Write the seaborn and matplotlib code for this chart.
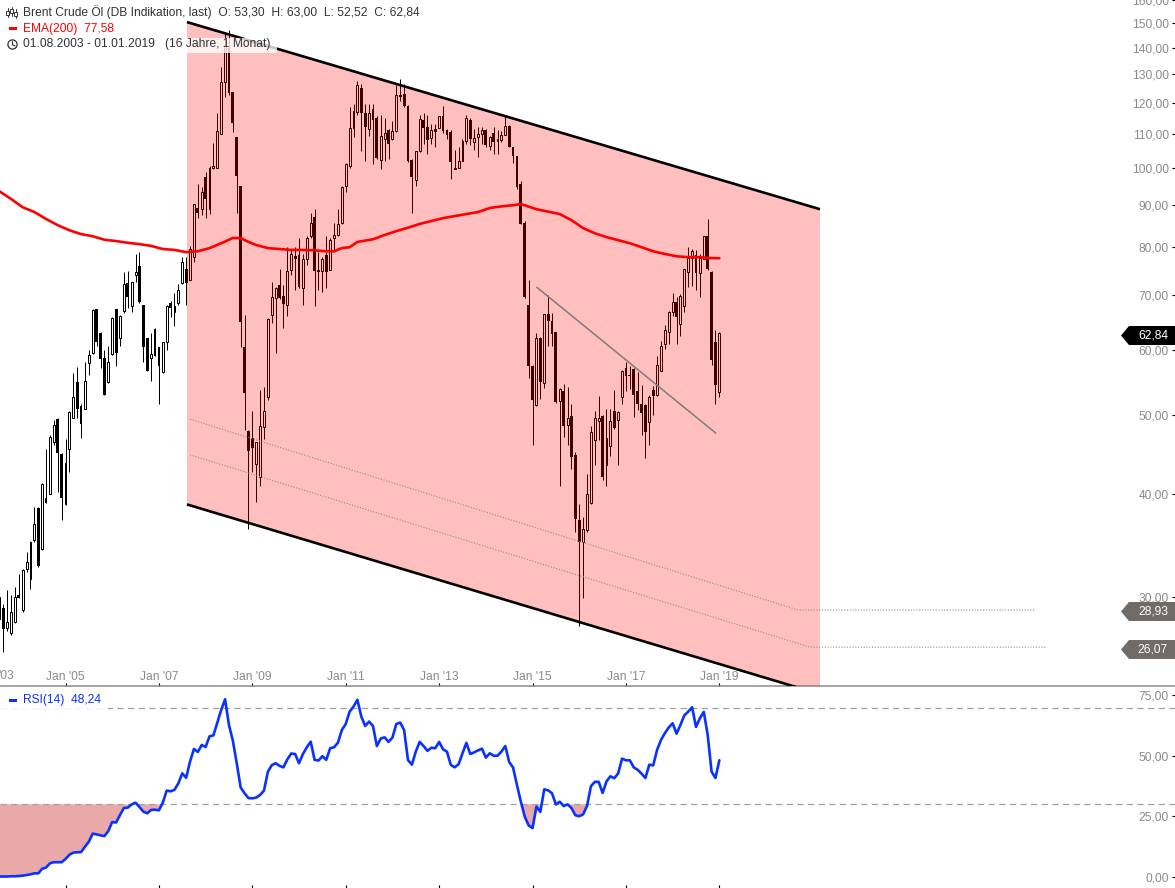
import numpy as np
import pandas as pd
import seaborn as sns
import matplotlib
matplotlib.use("Agg")
import matplotlib.pyplot as plt
from matplotlib.patches import Polygon, Rectangle, Circle
from matplotlib.ticker import NullLocator

opens = [28.2,29.1,27.5,27.1,28.0,
 30.2,28.9,32.5,31.6,35.2,38.5,34.3,39.6,40.1,46.3,49.4,44.8,
 38.9,45.5,49.6,54.9,51.2,50.9,57.9,59.4,67.2,62.9,58.6,54.8,
 59.3,67.2,62.0,66.9,72.3,67.9,74.1,75.9,68.0,62.0,58.6,63.6,
 60.4,56.4,61.3,68.5,66.7,68.5,72.3,75.2,73.0,77.9,89.3,89.0,
 97.4,89.0,99.9,100.0,110.0,127.0,140.0,123.5,108.9,95.0,60.4,47.8,
 46.8,43.6,42.0,48.3,52.6,66.1,69.4,71.9,69.8,68.1,75.0,78.0,
 78.2,71.4,77.5,82.5,87.0,75.1,74.8,78.3,75.1,82.0,82.9,85.7,
 95.0,100.5,111.6,117.0,125.0,116.4,111.4,118.0,114.9,102.2,108.3,111.0,
 108.5,110.8,122.5,122.8,119.0,102.3,96.5,104.7,114.3,112.0,108.7,111.3,
 111.8,115.7,111.0,110.5,99.7,100.0,102.0,107.8,114.3,107.4,109.0,110.0,
 111.0,106.3,110.2,107.7,108.2,109.7,112.4,105.9,103.3,95.4,85.7,68.0,
 57.4,51.4,62.0,54.7,66.4,65.0,63.0,52.0,53.5,48.6,49.8,44.7,
 37.2,35.0,36.2,39.0,46.6,49.2,49.9,43.4,45.8,50.6,49.3,52.6,
 57.0,55.9,56.8,53.5,51.6,51.4,49.0,53.6,52.8,56.6,61.0,63.0,
 66.8,68.6,64.5,67.9,74.7,77.6,78.3,74.5,77.5,82.5,74.7,61.3,
 53.30]
highs = [30.4,29.4,30.6,30.2,30.9,
 32.0,32.5,34.0,35.1,38.6,38.6,41.3,45.4,47.3,49.3,49.5,44.9,
 46.7,50.5,56.2,57.2,51.6,58.0,60.0,67.2,67.3,63.0,59.9,60.6,
 65.7,67.3,66.1,74.7,74.9,72.6,78.6,78.9,68.1,62.1,62.9,63.8,
 60.5,61.4,68.0,68.9,70.3,72.1,77.9,77.9,80.2,90.4,95.6,94.8,
 98.9,100.6,107.2,116.6,132.6,146.0,147.0,123.6,109.0,95.1,66.1,47.9,
 50.5,46.4,53.6,54.1,65.6,72.6,71.5,75.2,71.9,80.0,79.5,80.0,
 82.1,78.4,82.6,88.0,89.1,79.0,77.9,82.6,82.0,85.6,89.0,95.0,
 101.3,118.6,119.5,127.6,126.5,119.5,119.5,119.5,115.5,116.0,115.0,111.3,
 114.0,125.9,128.2,126.3,119.1,102.4,104.9,116.0,116.5,116.0,113.0,112.9,
 115.7,119.0,111.5,111.0,105.0,106.0,108.5,116.0,115.0,111.5,112.0,112.0,
 111.5,109.3,112.0,111.0,110.8,115.5,112.6,106.0,103.4,96.3,86.0,73.0,
 57.5,62.9,62.2,66.4,70.0,66.5,63.1,53.9,54.5,54.0,51.6,45.0,
 38.9,37.6,42.4,48.4,50.6,52.7,50.0,50.8,50.8,53.6,50.5,56.7,
 58.0,57.4,57.1,56.4,54.4,51.5,52.8,54.2,58.9,61.5,64.4,66.9,
 70.3,69.6,70.2,75.3,80.0,79.5,79.3,78.4,82.6,86.5,74.8,63.5,
 63.00]
lows = [27.6,25.7,27.3,27.0,27.9,
 29.9,28.8,32.2,30.7,35.0,32.6,34.2,39.0,40.0,46.0,40.3,37.2,
 38.8,42.6,49.5,49.6,46.9,50.8,55.9,59.3,60.7,57.1,52.8,54.7,
 59.2,57.3,60.6,66.5,67.4,66.8,72.5,68.5,58.0,56.5,55.0,58.9,
 51.6,56.3,60.0,65.8,64.2,68.1,72.2,68.1,72.9,76.8,86.9,87.6,
 86.9,87.9,99.7,99.9,109.9,122.0,122.5,110.5,88.0,60.4,47.9,36.3,
 42.6,39.2,41.0,46.7,52.2,64.6,59.4,69.2,63.7,65.9,74.0,71.0,
 71.4,68.0,76.1,82.0,67.9,71.0,70.5,71.3,75.0,79.0,82.5,85.5,
 93.5,100.0,109.0,116.0,104.9,102.0,109.4,101.0,102.4,99.5,102.0,102.5,
 108.0,110.5,120.5,118.5,101.5,88.0,95.0,104.5,107.0,104.0,107.0,106.0,
 111.7,110.3,108.5,97.0,99.5,99.9,101.9,107.0,106.5,105.0,103.0,107.0,
 106.0,105.0,104.0,104.0,107.5,109.6,106.0,101.3,94.2,85.4,69.4,55.5,
 46.0,51.3,52.3,53.9,60.7,60.7,51.7,41.0,47.0,46.0,43.0,36.0,
 27.7,29.9,36.0,38.9,43.5,46.6,41.6,41.0,44.5,48.1,43.5,51.6,
 53.4,53.7,49.7,50.7,47.3,44.3,46.0,50.0,52.7,56.5,60.2,61.0,
 66.0,61.0,62.3,66.8,71.5,71.8,70.9,69.6,77.4,75.0,57.5,51.6,
 52.52]
closes = [30.0,27.4,28.0,28.8,30.0,
 29.9,32.4,33.1,35.0,36.8,32.7,41.2,39.1,47.0,48.6,44.9,39.6,
 43.7,50.4,52.6,50.8,48.8,55.0,59.2,67.0,61.3,58.5,52.9,58.0,
 65.6,59.4,66.0,72.1,69.5,72.5,74.7,68.6,60.4,56.6,59.3,59.0,
 57.4,61.3,67.9,67.4,67.9,71.0,76.7,72.4,79.5,90.3,88.0,93.4,
 91.6,99.8,100.4,110.7,127.0,141.0,123.2,113.3,97.7,64.9,53.2,45.2,
 45.6,46.3,48.4,50.6,65.5,69.6,71.3,69.3,68.3,74.9,78.6,77.4,
 71.6,77.4,82.0,85.6,74.8,74.7,77.5,74.6,81.6,82.7,85.5,94.8,
 101.0,111.6,117.3,126.0,116.6,112.0,116.7,114.3,102.6,109.3,110.3,106.9,
 110.8,122.5,122.0,118.7,101.9,97.5,104.8,114.5,111.9,108.2,111.2,110.4,
 115.5,110.8,109.6,101.7,100.0,102.0,107.7,115.0,108.4,108.8,110.0,111.0,
 106.5,109.0,107.5,108.3,109.5,112.5,106.0,103.2,94.6,85.5,69.5,57.3,
 52.2,62.0,54.8,66.3,65.0,62.8,51.8,53.8,48.4,49.6,44.4,37.3,
 35.0,36.3,40.0,47.6,49.6,49.6,42.0,46.8,49.2,48.2,50.4,56.6,
 55.7,55.7,52.8,51.6,50.2,47.6,52.5,52.7,57.5,60.6,63.4,66.8,
 68.6,65.8,69.8,75.2,77.6,79.2,74.5,77.6,82.5,75.2,58.3,54.4,
 62.84]
rsi_values = [0.2,0.2,0.2,0.3,0.3,0.4,0.55,0.8,1.1,1.5,1.5,3.4,3.9,5.65,6.1,6.1,6.1,
 7.4,9.2,10.05,10.2,10.3,12.5,14.6,17.9,17.6,17.2,16.9,19.0,
 22.7,22.5,25.6,28.5,28.65,30.0,30.7,28.9,27.0,26.3,27.7,27.8,
 27.55,30.7,35.7,35.4,36.0,38.7,42.8,41.0,47.7,52.9,51.65,54.55,
 53.7,58.1,58.5,63.8,69.0,73.4,62.8,56.3,47.0,37.0,34.6,32.6,
 32.5,32.8,33.9,35.7,43.5,46.2,47.0,45.9,45.3,48.6,51.0,50.8,
 47.0,50.8,53.6,55.9,48.4,48.1,49.9,48.4,53.2,53.6,55.5,60.7,
 63.2,68.3,70.4,73.2,66.3,62.4,64.2,62.4,54.1,57.2,57.7,55.8,
 57.6,63.2,63.8,60.7,48.3,46.4,51.8,55.8,54.1,52.1,53.4,53.2,
 55.8,52.75,51.8,46.3,45.3,46.6,51.1,55.4,50.8,51.5,52.3,53.0,
 49.3,51.1,50.1,50.1,51.8,54.1,47.5,45.2,38.0,31.1,24.9,21.3,
 20.2,29.1,26.9,36.2,35.8,34.6,30.0,31.1,29.3,30.0,28.5,25.5,
 25.1,25.9,29.3,37.5,39.3,39.3,34.7,39.5,41.6,40.8,42.8,48.9,
 48.2,48.2,45.3,44.3,42.7,40.9,46.4,46.1,52.5,56.6,59.4,61.8,
 63.5,59.2,62.8,66.8,68.3,70.1,62.0,65.6,68.2,58.7,43.5,40.9,
 48.24]
ema_months = [0,3,6,9,12,15,18,21,24,27,30,33,36,39,42,45,48,51,54,57,60,62,64,66,69,72,75,78,81,84,86,88,90,92,96,99,102,105,108,111,114,117,120,123,126,129,132,134,138,141,144,147,150,153,156,159,162,165,168,171,174,177,180,183,185]
ema_values = [93.6,91.6,89.5,88.3,86.6,85.1,83.9,83.0,82.5,81.7,81.4,81.0,80.7,80.3,79.6,79.4,78.9,79.1,79.8,80.9,82.1,82.1,81.2,80.5,79.8,79.6,79.4,79.4,79.3,79.1,79.1,79.8,80.0,81.2,81.8,82.8,83.7,84.5,85.4,86.1,86.8,87.3,87.8,88.3,89.3,89.7,90.0,90.3,89.0,88.4,87.8,86.3,84.4,83.2,82.3,81.6,80.9,80.0,79.1,78.5,78.0,77.8,77.8,77.6,77.58]

price_ticks = [30,40,50,60,70,80,90,100,110,120,130,140,150,160]
rsi_ticks = [0,25,50,75]
rsi_guides = [30,70]
year_ticks = [17,41,65,89,113,137,161,185]
year_labels = ["Jan '05","Jan '07","Jan '09","Jan '11","Jan '13","Jan '15","Jan '17","Jan '19"]

channel_x = [48.2,210.85]
channel_top = [150.4,89.0]
channel_bottom = [38.9,22.85]
trend_x = [138.1,184.1]
trend_y = [71.5,47.5]
fib1_x = [49,205.2,266.1]
fib1_y = [49.4,28.93,28.93]
fib2_x = [49,208.3,269.2]
fib2_y = [44.7,26.07,26.07]

W, H = 1175, 888
sns.set_theme(style="white")
plt.rcParams["font.family"] = ["Liberation Sans", "DejaVu Sans"]
FS = 8.64
GREY = "#8a8a8a"
DARK = "#333333"
RED = "#ff0000"
BLUE = "#0a32ff"

df = pd.DataFrame({"k": np.arange(len(closes)), "o": opens, "h": highs, "l": lows, "c": closes, "rsi": rsi_values})
ema = pd.DataFrame({"k": ema_months, "v": ema_values})

split = (H - 686) / H
fig = plt.figure(figsize=(W / 100, H / 100), dpi=100)
ax = fig.add_axes([0, split, 1, 1 - split])
axr = fig.add_axes([0, 0, 1, split])
xlim = (0.17, 302.07)

ax.set_yscale("log")
ax.set_xlim(*xlim)
ax.set_ylim(23.38, 160)

# candles, then the translucent channel above them
wicks = ax.vlines(df.k, df.l, df.h, color="black", lw=0.72, zorder=2)
wicks.set_snap(True)
up = df.c >= df.o
body_lo = df[["o", "c"]].min(axis=1)
body_hi = df[["o", "c"]].max(axis=1)
ax.bar(df.k[up], (body_hi - body_lo)[up], bottom=body_lo[up], width=0.5,
       facecolor="white", edgecolor="black", linewidth=0.72, zorder=3)
ax.bar(df.k[~up], (body_hi - body_lo)[~up], bottom=body_lo[~up], width=0.72,
       facecolor="black", edgecolor="black", linewidth=0, zorder=3)

ax.fill([channel_x[0], channel_x[1], channel_x[1], channel_x[0]],
        [channel_top[0], channel_top[1], channel_bottom[1], channel_bottom[0]],
        color=RED, alpha=0.25, lw=0, zorder=4)
ax.plot(channel_x, channel_top, color="black", lw=1.9, zorder=6, solid_capstyle="butt")
ax.plot(channel_x, channel_bottom, color="black", lw=1.9, zorder=6, solid_capstyle="butt")
ax.plot(trend_x, trend_y, color="#7d7d7d", lw=1.1, zorder=5)
ax.plot(fib1_x, fib1_y, color="#8c8c8c", lw=0.8, ls=(0, (1, 1.5)), zorder=5)
ax.plot(fib2_x, fib2_y, color="#8c8c8c", lw=0.8, ls=(0, (1, 1.5)), zorder=5)
sns.lineplot(data=ema, x="k", y="v", color=RED, lw=1.9, ax=ax, estimator=None, errorbar=None, zorder=7)

ax.set_xlabel("")
ax.set_ylabel("")
ax.set_yticks(price_ticks)
ax.yaxis.set_minor_locator(NullLocator())
ax.xaxis.set_minor_locator(NullLocator())
ax.set_yticklabels([f"{v:.2f}".replace(".", ",") for v in price_ticks])
ax.yaxis.tick_right()
ax.tick_params(axis="y", which="major", direction="in", length=2.2, width=0.8, color="black",
               pad=-4.5, labelsize=FS, labelcolor=GREY, right=True, left=False)
for t in ax.get_yticklabels():
    t.set_ha("right")
ax.set_xticks(year_ticks)
ax.set_xticklabels(year_labels)
ax.tick_params(axis="x", direction="in", length=2.2, width=0.8, color="black", pad=-2.2,
               labelsize=FS, labelcolor=GREY, bottom=True)
for t in ax.get_xticklabels():
    t.set_va("bottom")
for s in ["top", "left", "right"]:
    ax.spines[s].set_visible(False)
ax.spines["bottom"].set_color("#8a8a8a")
ax.spines["bottom"].set_linewidth(1.1)
ax.patch.set_alpha(0)

# RSI panel
axr.set_xlim(*xlim)
axr.set_ylim(-4.55, 78.9)
rsi_arr = df.rsi.to_numpy()
axr.fill_between(df.k, rsi_arr, rsi_guides[0], where=rsi_arr <= rsi_guides[0], interpolate=True,
                 color="#eaa9a9", lw=0, zorder=1)
for g in rsi_guides:
    axr.axhline(g, color="#a0a0a0", lw=0.9, ls=(0, (5, 3.5)), zorder=2)
sns.lineplot(data=df, x="k", y="rsi", color=BLUE, lw=1.9, ax=axr, estimator=None, errorbar=None, zorder=4)
axr.set_xlabel("")
axr.set_ylabel("")
axr.set_yticks(rsi_ticks)
axr.set_yticklabels([f"{v:.2f}".replace(".", ",") for v in rsi_ticks])
axr.yaxis.tick_right()
axr.tick_params(axis="y", direction="in", length=2.2, width=0.8, color="black", pad=-4.5,
                labelsize=FS, labelcolor=GREY, right=True, left=False)
for t in axr.get_yticklabels():
    t.set_ha("right")
axr.set_xticks(year_ticks)
axr.set_xticklabels([])
axr.tick_params(axis="x", direction="in", length=2.2, width=0.8, color="black", bottom=True)
for s in axr.spines.values():
    s.set_visible(False)
axr.patch.set_alpha(0)

# overlay in pixel coordinates for the legend, icons and value tags
ov = fig.add_axes([0, 0, 1, 1], zorder=20)
ov.set_xlim(0, W)
ov.set_ylim(H, 0)
ov.axis("off")
ov.patch.set_alpha(0)

ov.add_patch(Rectangle((186, 38), 91, 15, facecolor="white", alpha=0.78, lw=0))
ov.add_patch(Rectangle((0, 693), 108, 16, facecolor="white", alpha=0.95, lw=0))

ov.text(23, 12.5, "Brent Crude Öl (DB Indikation, last)  O: 53,30  H: 63,00  L: 52,52  C: 62,84",
        fontsize=FS, color=DARK, va="center", ha="left")
ov.text(23, 29, "EMA(200)  77,58", fontsize=FS, color=RED, va="center", ha="left")
ov.text(23, 44.5, "01.08.2003 - 01.01.2019   (16 Jahre, 1 Monat)", fontsize=FS, color=DARK, va="center", ha="left")
ov.text(23, 700, "RSI(14)  48,24", fontsize=FS, color=BLUE, va="center", ha="left")
ov.text(14.5, 676, "'03", fontsize=FS, color=GREY, va="center", ha="right")

ov.add_patch(Rectangle((9, 27.5), 8, 3, facecolor=RED, lw=0))
ov.add_patch(Rectangle((9, 698.5), 8, 3, facecolor=BLUE, lw=0))
ov.add_patch(Circle((12.5, 44.5), 4.6, facecolor="none", edgecolor=DARK, lw=0.9))
ov.plot([12.5, 12.5, 15], [41.5, 44.8, 46], color=DARK, lw=0.8)
for cx, top, b0, b1, bot in [(7.5, 8, 11, 15, 17), (11.5, 7, 9, 13, 16), (15.5, 9, 12, 16, 18)]:
    ov.plot([cx, cx], [top, bot], color=DARK, lw=0.7)
    ov.add_patch(Rectangle((cx - 1.2, b0), 2.4, b1 - b0, facecolor="white", edgecolor=DARK, lw=0.7, zorder=3))

for label, yc, col in [("62,84", 335.5, "black"), ("28,93", 611.5, "#706b67"), ("26,07", 649.5, "#706b67")]:
    ov.add_patch(Polygon([(1121, yc), (1129, yc - 9.5), (1175, yc - 9.5), (1175, yc + 9.5), (1129, yc + 9.5)],
                         closed=True, facecolor=col, lw=0))
    ov.text(1168, yc + 0.3, label, fontsize=FS, color="white", ha="right", va="center")

fig.savefig("out.png", dpi=100)
